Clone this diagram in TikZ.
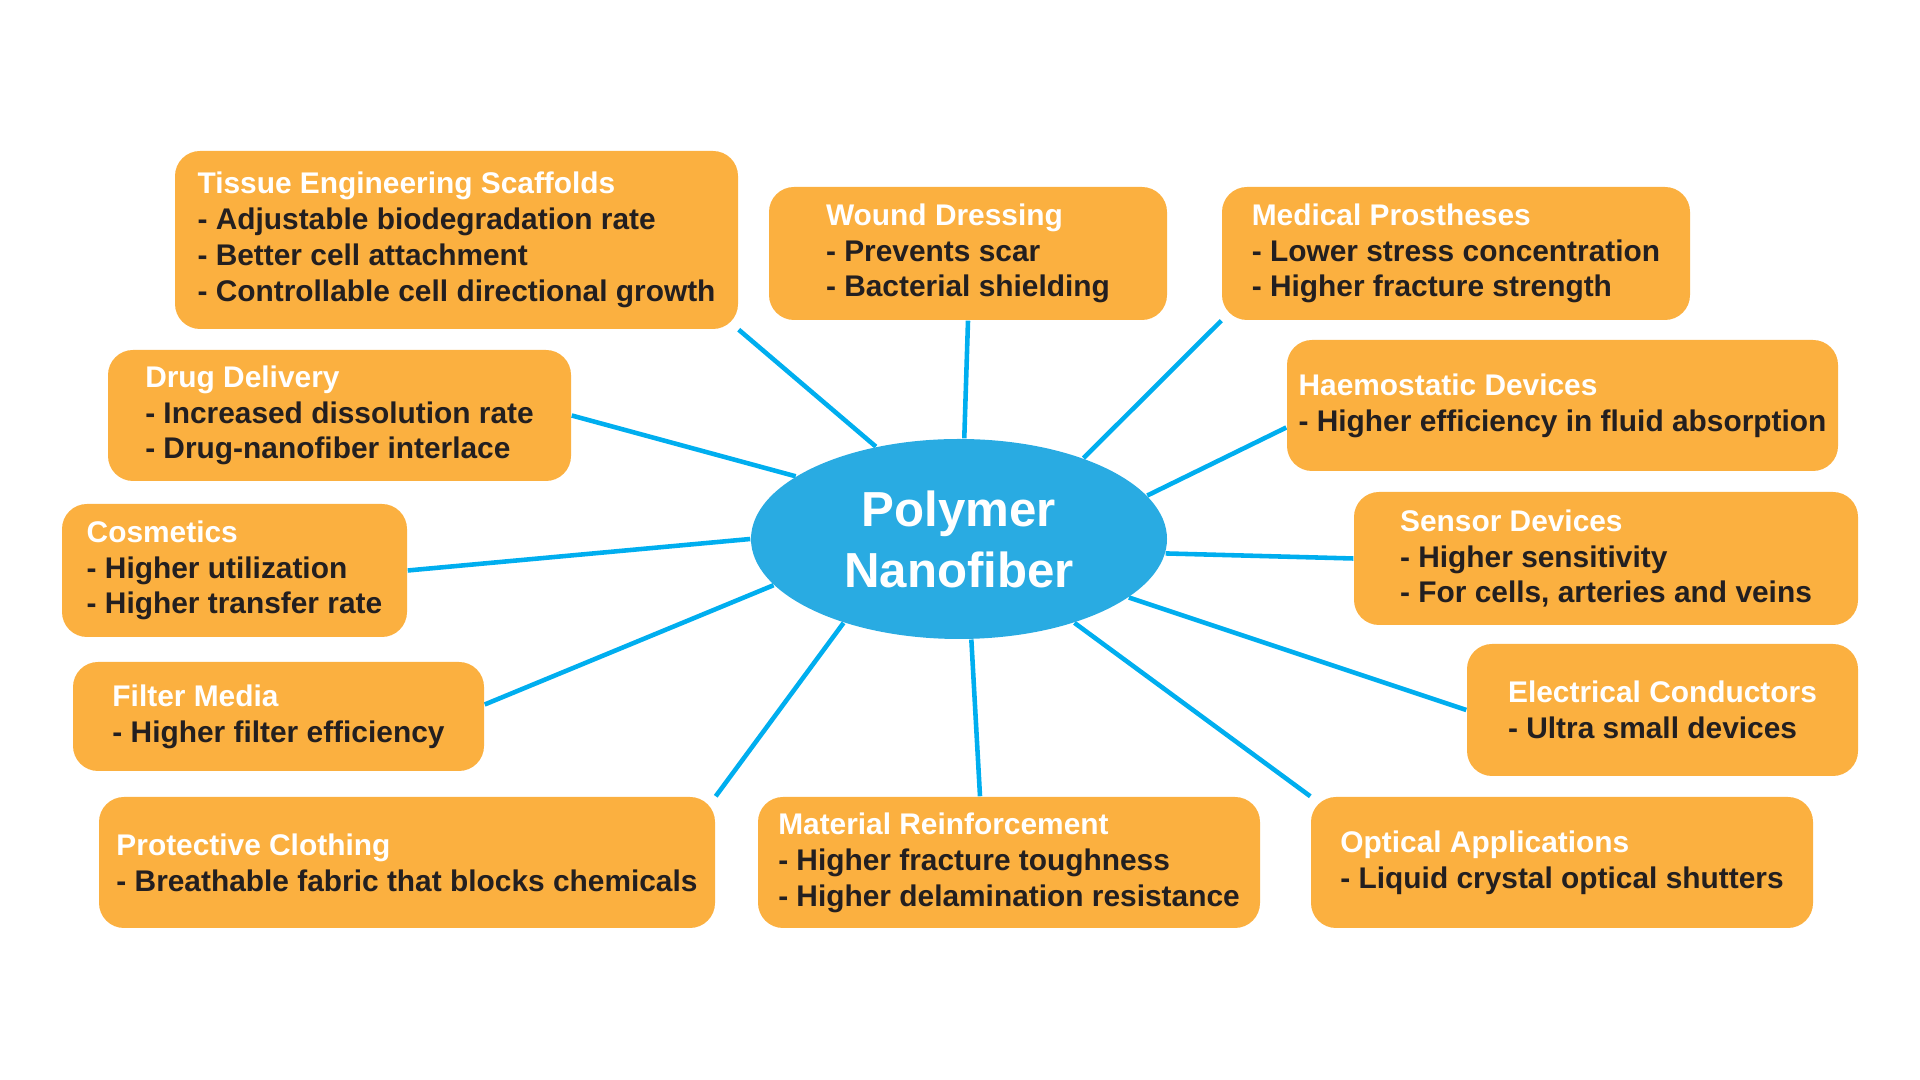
\documentclass[tikz,border=0pt]{standalone}
\usepackage{fontspec}
\setmainfont{Liberation Sans}
\usetikzlibrary{shapes.geometric,backgrounds}
\definecolor{boxorange}{HTML}{FBB040}
\definecolor{hubblue}{HTML}{29ABE2}
\definecolor{spokeblue}{HTML}{00AEEF}
\definecolor{bodytext}{HTML}{231F20}

\begin{document}
\begin{tikzpicture}[
    app/.style={fill=boxorange,rounded corners=0.25cm,align=left,text=bodytext,
      inner sep=0pt,font=\fontsize{8.5}{10.2}\selectfont\bfseries},
    spoke/.style={draw=spokeblue,line width=1.3pt}]
  \useasboundingbox (0,0) rectangle (19.2,10.8);

  \node[ellipse,fill=hubblue,minimum width=4.16cm,minimum height=2cm,inner sep=0pt,
    text=white,align=center,font=\fontsize{14}{17.4}\selectfont\bfseries]
    (hub) at (9.59,5.41) {Polymer\\Nanofiber};

  % top row
  \node[app,minimum width=5.63cm,minimum height=1.78cm] (tissue) at (4.565,8.40)
    {{\color{white}Tissue Engineering Scaffolds}\\- Adjustable biodegradation rate\\- Better cell attachment\\- Controllable cell directional growth};
  \node[app,minimum width=3.98cm,minimum height=1.33cm] (wound) at (9.68,8.265)
    {{\color{white}Wound Dressing}\\- Prevents scar\\- Bacterial shielding};
  \node[app,minimum width=4.68cm,minimum height=1.33cm] (prosth) at (14.56,8.265)
    {{\color{white}Medical Prostheses}\\- Lower stress concentration\\- Higher fracture strength};

  % left side
  \node[app,minimum width=4.63cm,minimum height=1.31cm] (drug) at (3.395,6.645)
    {{\color{white}Drug Delivery}\\- Increased dissolution rate\\- Drug-nanofiber interlace};
  \node[app,minimum width=3.45cm,minimum height=1.33cm] (cosmetic) at (2.345,5.095)
    {{\color{white}Cosmetics}\\- Higher utilization\\- Higher transfer rate};
  \node[app,minimum width=4.11cm,minimum height=1.09cm] (filter) at (2.785,3.635)
    {{\color{white}Filter Media}\\- Higher filter efficiency};

  % right side
  \node[app,minimum width=5.51cm,minimum height=1.31cm] (haemo) at (15.625,6.745)
    {{\color{white}Haemostatic Devices}\\- Higher efficiency in fluid absorption};
  \node[app,minimum width=5.04cm,minimum height=1.33cm] (sensor) at (16.06,5.215)
    {{\color{white}Sensor Devices}\\- Higher sensitivity\\- For cells, arteries and veins};
  \node[app,minimum width=3.91cm,minimum height=1.32cm] (conduct) at (16.625,3.70)
    {{\color{white}Electrical Conductors}\\- Ultra small devices};

  % bottom row
  \node[app,minimum width=6.16cm,minimum height=1.31cm] (cloth) at (4.07,2.175)
    {{\color{white}Protective Clothing}\\- Breathable fabric that blocks chemicals};
  \node[app,minimum width=5.02cm,minimum height=1.31cm] (reinf) at (10.09,2.175)
    {{\color{white}Material Reinforcement}\\- Higher fracture toughness\\- Higher delamination resistance};
  \node[app,minimum width=5.02cm,minimum height=1.31cm] (optic) at (15.62,2.175)
    {{\color{white}Optical Applications}\\- Liquid crystal optical shutters};

  \begin{scope}[on background layer]
    \draw[spoke] (hub.132.7) -- (tissue.south east);
    \draw[spoke] (hub.87) -- (wound.south);
    \draw[spoke] (hub.33) -- (prosth.south west);
    \draw[spoke] (hub.13.3) -- ([yshift=-0.22cm]haemo.west);
    \draw[spoke] (hub.-4.7) -- (sensor.west);
    \draw[spoke] (hub.-19.7) -- (conduct.west);
    \draw[spoke] (hub.-36.2) -- (optic.north west);
    \draw[spoke] (hub.-83.7) -- ([xshift=-0.29cm]reinf.north);
    \draw[spoke] (hub.-144) -- (cloth.north east);
    \draw[spoke] (hub.-166.8) -- ([yshift=0.12cm]filter.east);
    \draw[spoke] (hub.180) -- (cosmetic.east);
    \draw[spoke] (hub.159.8) -- (drug.east);
  \end{scope}
\end{tikzpicture}
\end{document}
